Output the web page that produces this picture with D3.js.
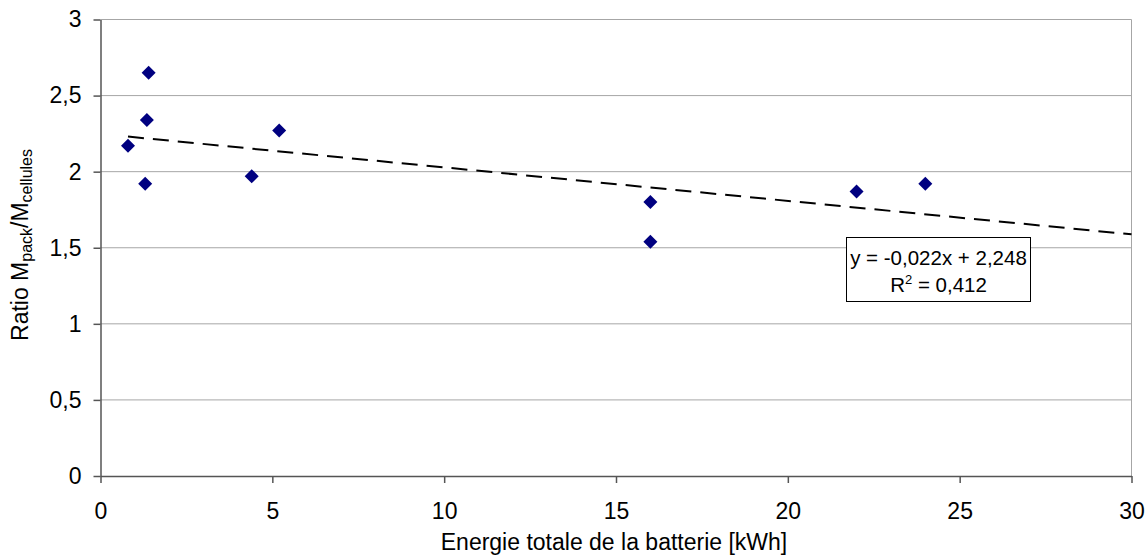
<!DOCTYPE html>
<html lang="fr">
<head>
  <meta charset="UTF-8" />
  <title>Ratio Mpack/Mcellules</title>
  <script src="https://d3js.org/d3.v7.min.js"></script>
  <style>
    body {
      margin: 0;
      background-color: #ffffff;
      font-family: "Liberation Sans", Arial, sans-serif;
    }

    .grid line {
      stroke: #a6a6a6;
      stroke-width: 1px;
    }

    .axis path,
    .axis line {
      stroke: #555555;
      stroke-width: 1.5px;
    }

    .axis text {
      font-family: "Liberation Sans", Arial, sans-serif;
      font-size: 23px;
      fill: #000;
    }

    .trend {
      fill: none;
      stroke: #000;
      stroke-width: 2px;
      stroke-dasharray: 16, 9;
    }
  </style>
</head>

<body>
  <svg id="chart" width="1145" height="559"></svg>

  <script>
    // data
    const energy = [0.8, 1.4, 1.35, 1.3, 4.4, 5.2, 16, 16, 22, 24];
    const ratio = [2.17, 2.65, 2.34, 1.92, 1.97, 2.27, 1.80, 1.54, 1.87, 1.92];
    const xTicks = [0, 5, 10, 15, 20, 25, 30];
    const yTicks = [0, 0.5, 1, 1.5, 2, 2.5, 3];
    const slope = -0.022;
    const intercept = 2.248;
    const trendFrom = 0.8;
    const trendTo = 30;
    const eqLabel = "y = -0,022x + 2,248";
    const r2Value = "0,412";

    const svg = d3.select("#chart");
    const margin = { top: 19.5, right: 13.5, bottom: 83, left: 100.5 };
    const width = svg.attr("width") - margin.left - margin.right;
    const height = svg.attr("height") - margin.top - margin.bottom;

    const g = svg.append("g")
      .attr("transform", `translate(${margin.left},${margin.top})`);

    const x = d3.scaleLinear().domain([0, 30]).range([0, width]);
    const y = d3.scaleLinear().domain([0, 3]).range([height, 0]);

    const fmt = (d) => String(d).replace(".", ",");

    // horizontal gridlines
    g.append("g")
      .attr("class", "grid")
      .selectAll("line")
      .data(yTicks.filter((d) => d > 0))
      .join("line")
      .attr("x1", 0)
      .attr("x2", width)
      .attr("y1", (d) => y(d))
      .attr("y2", (d) => y(d));

    // right border of plot area
    g.append("line")
      .attr("x1", width).attr("x2", width)
      .attr("y1", 0).attr("y2", height)
      .attr("stroke", "#a6a6a6");

    g.append("g")
      .attr("class", "axis")
      .call(d3.axisLeft(y).tickValues(yTicks).tickFormat(fmt).tickSizeInner(7).tickSizeOuter(0).tickPadding(12));

    g.append("g")
      .attr("class", "axis")
      .attr("transform", `translate(0,${height})`)
      .call(d3.axisBottom(x).tickValues(xTicks).tickFormat(fmt).tickSizeInner(7).tickSizeOuter(0).tickPadding(19.5));

    // trend line
    g.append("line")
      .attr("class", "trend")
      .attr("x1", x(trendFrom))
      .attr("y1", y(slope * trendFrom + intercept))
      .attr("x2", x(trendTo))
      .attr("y2", y(slope * trendTo + intercept));

    // diamond markers
    const points = energy.map((e, i) => ({ e: e, r: ratio[i] }));
    g.append("g")
      .selectAll("path")
      .data(points)
      .join("path")
      .attr("d", d3.symbol(d3.symbolSquare, 98))
      .attr("transform", (d) => `translate(${x(d.e)},${y(d.r)}) rotate(45)`)
      .attr("fill", "#000080");

    // equation box
    const box = svg.append("g").attr("transform", "translate(846.5,237.5)");
    box.append("rect")
      .attr("width", 184)
      .attr("height", 64)
      .attr("fill", "#fff")
      .attr("stroke", "#000")
      .attr("stroke-width", 1);
    box.append("text")
      .attr("x", 92)
      .attr("y", 27)
      .attr("text-anchor", "middle")
      .style("font-size", "20.5px")
      .text(eqLabel);
    const r2 = box.append("text")
      .attr("x", 92)
      .attr("y", 54)
      .attr("text-anchor", "middle")
      .style("font-size", "20.5px");
    r2.append("tspan").text("R");
    r2.append("tspan").attr("dy", -8).style("font-size", "13px").text("2");
    r2.append("tspan").attr("dy", 8).text(" = " + r2Value);

    // axis titles
    svg.append("text")
      .attr("x", 614)
      .attr("y", 550)
      .attr("text-anchor", "middle")
      .style("font-size", "23px")
      .text("Energie totale de la batterie [kWh]");

    const yTitle = svg.append("text")
      .attr("transform", `translate(28,245) rotate(-90)`)
      .attr("text-anchor", "middle")
      .style("font-size", "23px");
    yTitle.append("tspan").text("Ratio M");
    yTitle.append("tspan").attr("dy", 4).style("font-size", "16px").text("pack");
    yTitle.append("tspan").attr("dy", -4).text("/M");
    yTitle.append("tspan").attr("dy", 4).style("font-size", "16px").text("cellules");
  </script>
</body>
</html>
